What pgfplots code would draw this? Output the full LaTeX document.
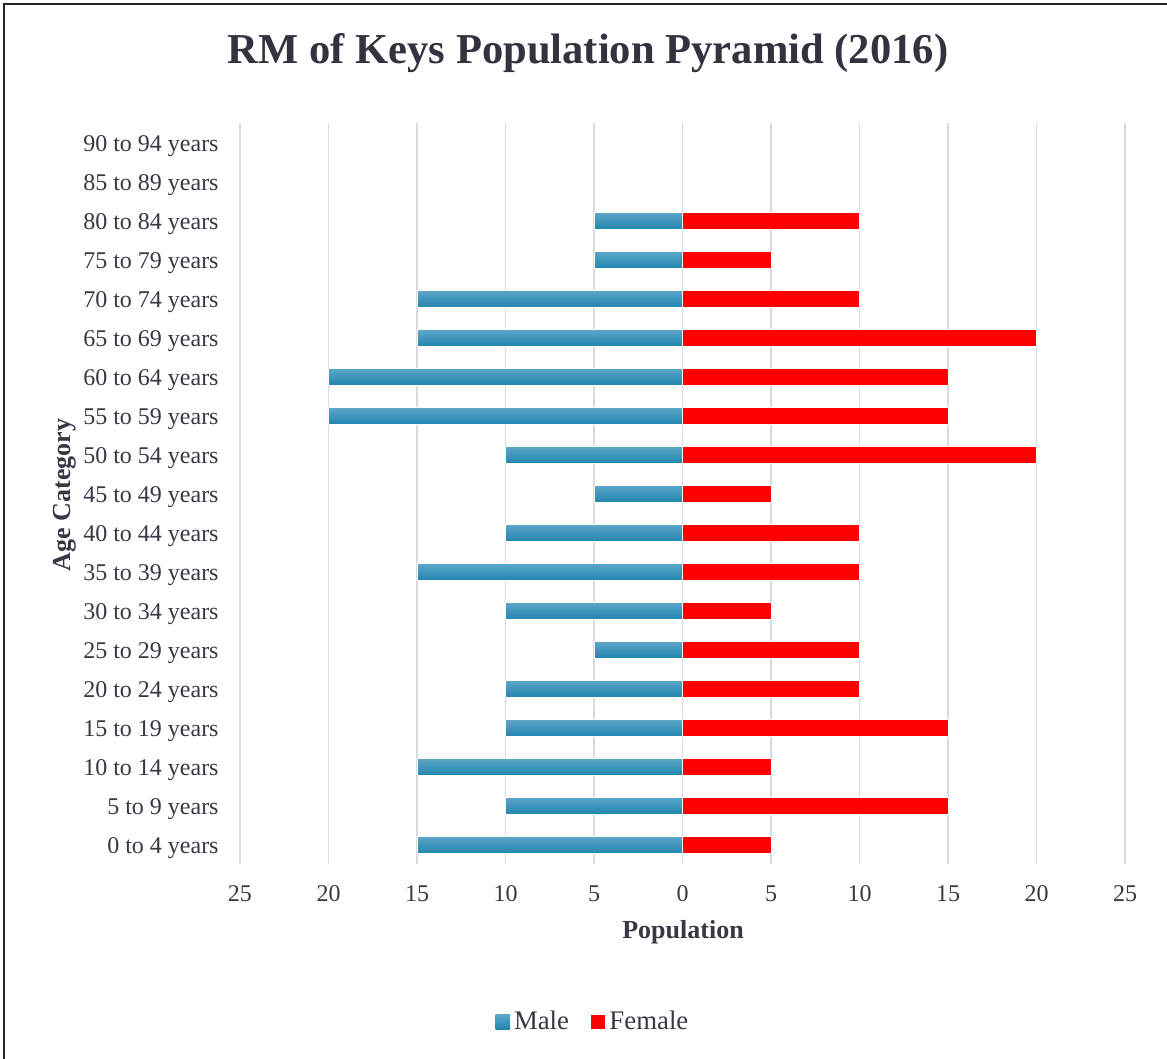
\documentclass[border=0pt]{standalone}
\usepackage{pgfplots}
\pgfplotsset{compat=1.18}
\usepackage{fontspec}
\setmainfont{Liberation Serif}

\definecolor{maletop}{RGB}{92,166,201}
\definecolor{malebot}{RGB}{32,133,174}
\definecolor{femalered}{RGB}{255,0,0}
\definecolor{gridc}{RGB}{217,217,225}
\definecolor{txt}{RGB}{59,54,69}
\definecolor{titlec}{RGB}{53,49,63}

\pgfplotsset{
  malebar/.style={xbar, bar width=8.5pt, bar shift=0pt,
    top color=maletop, bottom color=malebot, draw=white, line width=0.4pt},
}

\begin{document}
\begin{tikzpicture}
\useasboundingbox (0,0) rectangle (583.5pt,529.5pt);
% outer frame
\draw[line width=0.6pt, black!85] (2pt,-20pt) rectangle (620pt,527.5pt);

\node[font=\fontsize{21.3}{25}\selectfont\bfseries, text=titlec] at (294pt,503pt)
  {RM of Keys Population Pyramid (2016)};

\begin{axis}[
  at={(120pt,97.25pt)}, anchor=south west,
  scale only axis,
  width=442.5pt, height=370.5pt,
  xmin=-25, xmax=25,
  ymin=-0.5, ymax=18.5,
  xtick={-25,-20,...,25},
  xticklabel={\pgfmathparse{abs(\tick)}\pgfmathprintnumber{\pgfmathresult}},
  ytick={0,...,18},
  yticklabels={0 to 4 years,5 to 9 years,10 to 14 years,15 to 19 years,20 to 24 years,25 to 29 years,30 to 34 years,35 to 39 years,40 to 44 years,45 to 49 years,50 to 54 years,55 to 59 years,60 to 64 years,65 to 69 years,70 to 74 years,75 to 79 years,80 to 84 years,85 to 89 years,90 to 94 years},
  /pgf/number format/assume math mode=true,
  ticklabel style={font=\fontsize{12}{14}\selectfont, text=txt},
  xticklabel style={anchor=center, yshift=-14.75pt},
  yticklabel style={anchor=east, inner sep=0pt, xshift=-10.5pt, yshift=-1.5pt},
  axis line style={draw=none},
  major tick style={draw=none},
  xmajorgrids,
  grid style={gridc, line width=0.75pt},
  xlabel={Population},
  ylabel={Age Category},
  label style={font=\fontsize{13}{15}\selectfont\bfseries, text=txt},
  xlabel style={at={(axis description cs:0.5006,-0.0917)}, anchor=center},
  ylabel style={at={(axis description cs:-0.198,0.4987)}, anchor=center, rotate=0},
  legend style={at={(axis description cs:0.4,-0.2125)}, anchor=center,
    draw=none, fill=none, legend columns=-1,
    font=\fontsize{13.4}{15}\selectfont, text=txt,
    /tikz/every even column/.append style={column sep=9pt}},
  legend image code/.code={\fill[#1,draw=none] (0pt,-3.6pt) rectangle (7.2pt,3.6pt);},
]
% male bars, one plot per bar so each carries its own gradient
\addplot[malebar] coordinates {(-15,0)};
\addlegendentry{Male}
\addplot[malebar, forget plot] coordinates {(-10,1)};
\addplot[malebar, forget plot] coordinates {(-15,2)};
\addplot[malebar, forget plot] coordinates {(-10,3)};
\addplot[malebar, forget plot] coordinates {(-10,4)};
\addplot[malebar, forget plot] coordinates {(-5,5)};
\addplot[malebar, forget plot] coordinates {(-10,6)};
\addplot[malebar, forget plot] coordinates {(-15,7)};
\addplot[malebar, forget plot] coordinates {(-10,8)};
\addplot[malebar, forget plot] coordinates {(-5,9)};
\addplot[malebar, forget plot] coordinates {(-10,10)};
\addplot[malebar, forget plot] coordinates {(-20,11)};
\addplot[malebar, forget plot] coordinates {(-20,12)};
\addplot[malebar, forget plot] coordinates {(-15,13)};
\addplot[malebar, forget plot] coordinates {(-15,14)};
\addplot[malebar, forget plot] coordinates {(-5,15)};
\addplot[malebar, forget plot] coordinates {(-5,16)};
% female bars
\addplot[xbar, bar width=8.5pt, bar shift=0pt, fill=femalered,
  draw=white, line width=0.4pt]
  coordinates {
    (5,0) (15,1) (5,2) (15,3) (10,4) (10,5) (5,6) (10,7) (10,8)
    (5,9) (20,10) (15,11) (15,12) (20,13) (10,14) (5,15) (10,16)
  };
\addlegendentry{Female}
\end{axis}
\end{tikzpicture}
\end{document}
